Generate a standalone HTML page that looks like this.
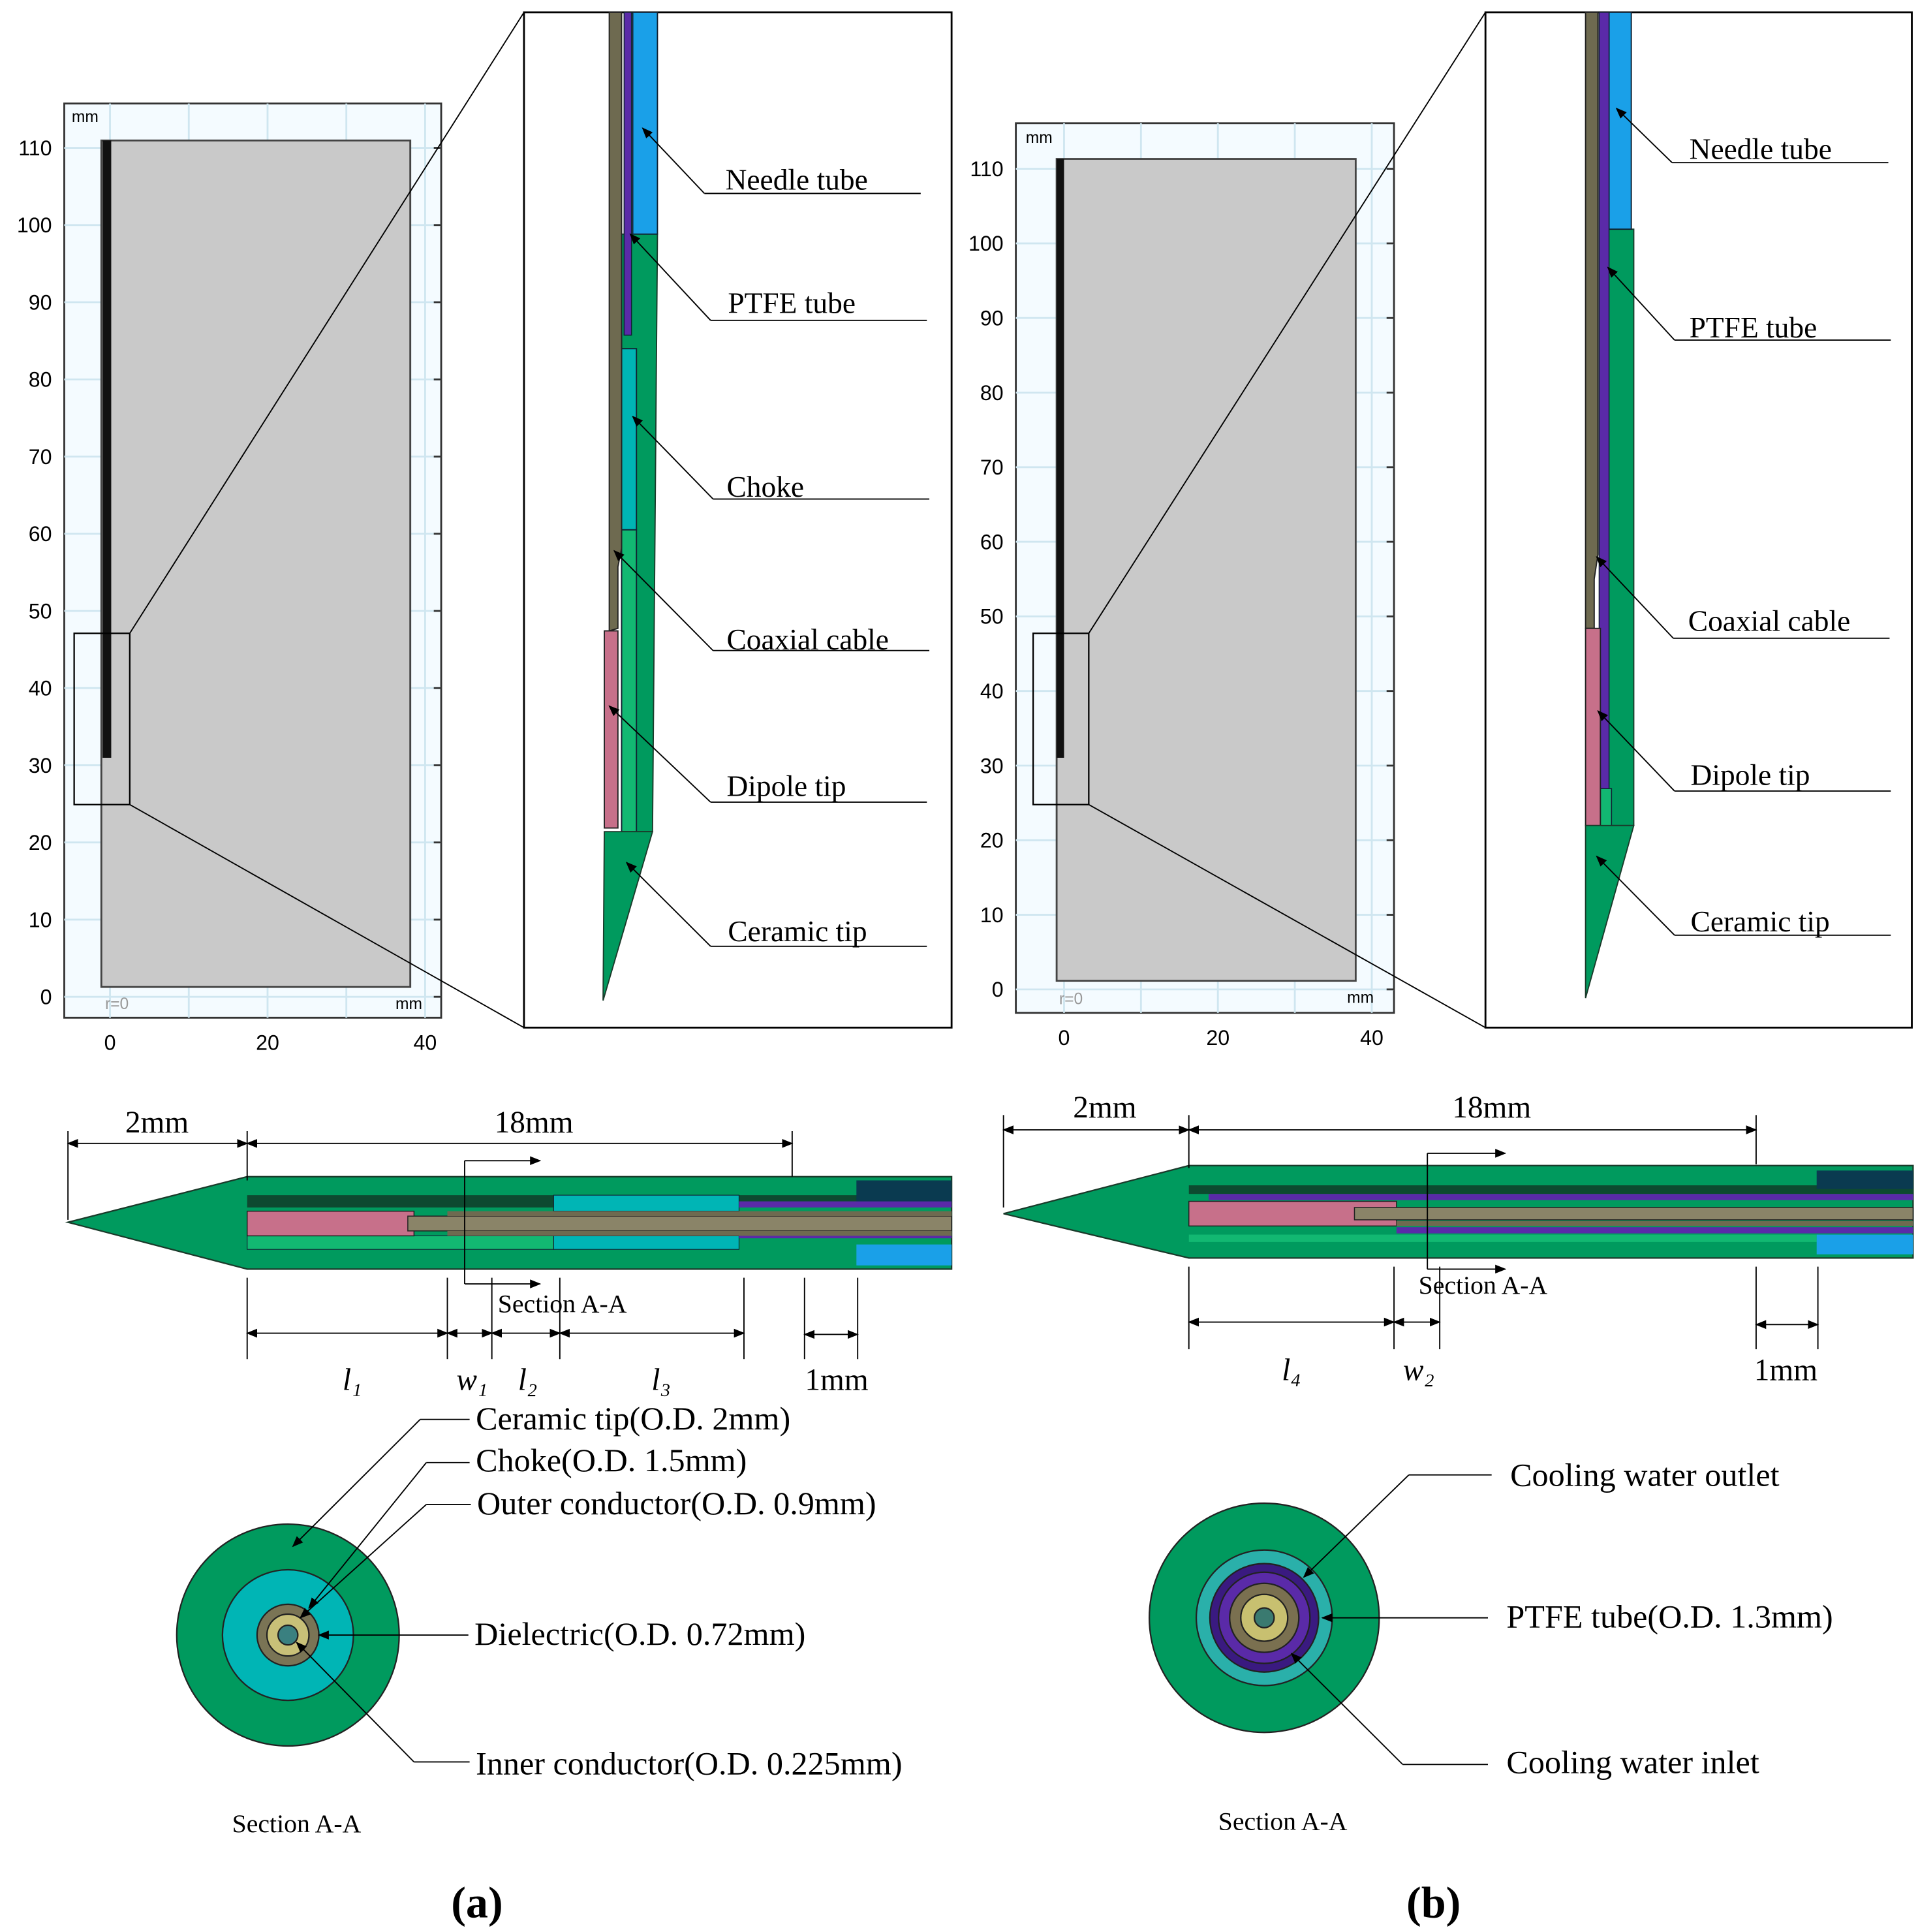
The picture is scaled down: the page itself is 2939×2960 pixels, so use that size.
<!DOCTYPE html>
<html><head><meta charset="utf-8"><style>
html,body{margin:0;padding:0;background:#fff}
svg{display:block}
text{font-family:"Liberation Serif",serif;fill:#000}
.ax{font-family:"Liberation Sans",sans-serif;font-size:17px}
</style></head><body>
<svg id="fig" width="2939" height="2960" viewBox="0 0 1552 1568" preserveAspectRatio="none" xmlns="http://www.w3.org/2000/svg">
<defs>
<marker id="ar" viewBox="0 0 10 10" refX="9" refY="5" markerWidth="9" markerHeight="9" orient="auto-start-reverse"><path d="M0,1 L10,5 L0,9 z" fill="#000"/></marker>
</defs>

<g id="plotA">
<rect x="52" y="84" width="305" height="742" fill="#f4fbff" stroke="#333" stroke-width="1.5"/>
<g id="gridA"></g>
<rect x="82" y="114" width="250" height="687" fill="#c9c9c9" stroke="#444" stroke-width="1.5"/>
<rect x="83" y="114" width="7" height="501" fill="#111"/>
<rect x="60" y="514" width="45" height="139" fill="none" stroke="#000" stroke-width="1.2"/>
<text x="58" y="99" class="ax" font-size="13" style="font-size:13px">mm</text>
<text x="320" y="819" class="ax" style="font-size:13px">mm</text>
<text x="85" y="819" class="ax" style="fill:#999;font-size:13px">r=0</text>
</g>
<line x1="105" y1="514" x2="424" y2="10" stroke="#000" stroke-width="1"/>
<line x1="105" y1="653" x2="424" y2="834" stroke="#000" stroke-width="1"/>

<g id="plotB">
<rect x="822" y="100" width="306" height="722" fill="#f4fbff" stroke="#333" stroke-width="1.5"/>
<g id="gridB"></g>
<rect x="855" y="129" width="242" height="667" fill="#c9c9c9" stroke="#444" stroke-width="1.5"/>
<rect x="855" y="129" width="6" height="486" fill="#111"/>
<rect x="836" y="514" width="45" height="139" fill="none" stroke="#000" stroke-width="1.2"/>
<text x="830" y="116" class="ax" style="font-size:13px">mm</text>
<text x="1090" y="814" class="ax" style="font-size:13px">mm</text>
<text x="857" y="815" class="ax" style="fill:#999;font-size:13px">r=0</text>
</g>
<line x1="881" y1="514" x2="1202" y2="10" stroke="#000" stroke-width="1"/>
<line x1="881" y1="653" x2="1202" y2="834" stroke="#000" stroke-width="1"/>

<g>
<rect x="424" y="10" width="346" height="824" fill="#fff" stroke="#000" stroke-width="1.5"/>
<polygon points="503,190 532,190 528,675 503,675" fill="#009a5e" stroke="#1a3a2a" stroke-width="1"/>
<rect x="512" y="10" width="20" height="180" fill="#1aa0e8" stroke="#123" stroke-width="1"/>
<rect x="503" y="283" width="12" height="147" fill="#00b5b5" stroke="#123" stroke-width="1"/>
<rect x="503" y="430" width="12" height="245" fill="#12b872" stroke="#123" stroke-width="1"/>
<rect x="505" y="10" width="6" height="262" fill="#5a2aa8" stroke="#123" stroke-width="0.8"/>
<polygon points="493,10 503,10 503,445 500,460 500,510 493,512" fill="#6e6a50" stroke="#222" stroke-width="1"/>
<rect x="489" y="512" width="11" height="160" fill="#c7708a" stroke="#222" stroke-width="1"/>
<polygon points="489,675 528,675 488,812" fill="#009a5e" stroke="#1a3a2a" stroke-width="1"/>
</g>
<g>
<rect x="1202" y="10" width="345" height="824" fill="#fff" stroke="#000" stroke-width="1.5"/>
<rect x="1300" y="186" width="22" height="484" fill="#009a5e" stroke="#1a3a2a" stroke-width="1"/>
<rect x="1302" y="10" width="18" height="176" fill="#1aa0e8" stroke="#123" stroke-width="1"/>
<rect x="1294" y="10" width="8" height="630" fill="#5a2aa8" stroke="#123" stroke-width="0.8"/>
<rect x="1294" y="640" width="10" height="30" fill="#12b872" stroke="#123" stroke-width="0.8"/>
<polygon points="1283,10 1293,10 1293,450 1290,470 1290,510 1283,510" fill="#6e6a50" stroke="#222" stroke-width="1"/>
<rect x="1283" y="510" width="12" height="160" fill="#c7708a" stroke="#222" stroke-width="1"/>
<polygon points="1283,670 1322,670 1283,810" fill="#009a5e" stroke="#1a3a2a" stroke-width="1"/>
</g>

<g id="labels" font-size="24"></g>

<g>
<polygon points="55,992 200,955 770,955 770,1030 200,1030" fill="#009a5e" stroke="#1a3a2a" stroke-width="1.2"/>
<rect x="200" y="970" width="570" height="10" fill="#0d4a30"/>
<rect x="448" y="970" width="150" height="13" fill="#00b5b5" stroke="#123" stroke-width="0.6"/>
<rect x="448" y="1003" width="150" height="11" fill="#00b5b5" stroke="#123" stroke-width="0.6"/>
<rect x="200" y="1003" width="248" height="11" fill="#12b872" stroke="#123" stroke-width="0.6"/>
<rect x="598" y="975" width="172" height="5" fill="#5a2aa8"/>
<rect x="598" y="1000" width="172" height="5" fill="#5a2aa8"/>
<rect x="200" y="983" width="135" height="20" fill="#c7708a" stroke="#222" stroke-width="0.8"/>
<rect x="330" y="987" width="440" height="12" fill="#8a8468" stroke="#222" stroke-width="0.8"/>
<rect x="362" y="983" width="408" height="4" fill="#6e6a50"/>
<rect x="362" y="999" width="408" height="4" fill="#6e6a50"/>
<rect x="693" y="958" width="77" height="17" fill="#0a3a50"/>
<rect x="693" y="1010" width="77" height="17" fill="#1aa0e8"/>
</g>
<g>
<polygon points="812,985 962,946 1548,946 1548,1021 962,1021" fill="#009a5e" stroke="#1a3a2a" stroke-width="1.2"/>
<rect x="962" y="962" width="586" height="7" fill="#0d4a30"/>
<rect x="978" y="969" width="570" height="5" fill="#5a2aa8"/>
<rect x="962" y="975" width="168" height="20" fill="#c7708a" stroke="#222" stroke-width="0.8"/>
<rect x="1096" y="980" width="452" height="10" fill="#8a8468" stroke="#222" stroke-width="0.8"/>
<rect x="1130" y="991" width="418" height="4" fill="#6e6a50"/>
<rect x="1130" y="996" width="418" height="5" fill="#5a2aa8"/>
<rect x="962" y="1002" width="508" height="6" fill="#12b872"/>
<rect x="1470" y="950" width="78" height="15" fill="#0a3a50"/>
<rect x="1470" y="1002" width="78" height="16" fill="#1aa0e8"/>
</g>

<g id="csA"></g>
<g id="csB"></g>

<g id="dims" stroke="#000" stroke-width="1" fill="none"></g>
<g id="dimtext" font-size="25"></g>

<text x="386" y="1556" font-size="36" font-weight="bold" text-anchor="middle">(a)</text>
<text x="1160" y="1556" font-size="36" font-weight="bold" text-anchor="middle">(b)</text>
</svg>
<script>
const NS='http://www.w3.org/2000/svg';
const yTicks=[0,10,20,30,40,50,60,70,80,90,100,110];
const xTicks=[0,20,40];
function mk(p,tag,attrs,txt){const e=document.createElementNS(NS,tag);for(const k in attrs)e.setAttribute(k,attrs[k]);if(txt!==undefined)e.textContent=txt;p.appendChild(e);return e;}
function axes(gid,fx,fy,f){
  const g=document.getElementById(gid);
  const xs=v=>fx[0]+v*(fx[1]-fx[0])/40, ys=v=>fy[0]-v*(fy[0]-fy[1])/110;
  yTicks.forEach(v=>{
    const y=ys(v);
    const l=mk(g,'line',{x1:f[0],x2:f[1],y1:y,y2:y,stroke:'#cfe6f0','stroke-width':1.5});
    
    
    mk(g,'line',{x1:f[1]-6,x2:f[1],y1:y,y2:y,stroke:'#333','stroke-width':1.5});
    const t=mk(g,'text',{x:f[0]-10,y:y+6,'text-anchor':'end','class':'ax'},v);
    
    
  });
  [0,10,20,30,40].forEach(v=>{
    const x=xs(v);
    mk(g,'line',{x1:x,x2:x,y1:f[2],y2:f[3],stroke:'#cfe6f0','stroke-width':1.5});
  });
  xTicks.forEach(v=>{
    const x=xs(v);
    const t=mk(g,'text',{x:x,y:f[3]+26,'text-anchor':'middle','class':'ax'},v);
    
    
  });
}
axes('gridA',[89,344],[809,120],[52,357,84,826]);
axes('gridB',[861,1110],[803,137],[822,1128,100,822]);

const labelTexts=['Needle tube','PTFE tube','Choke','Coaxial cable','Dipole tip','Ceramic tip','Needle tube','PTFE tube','Coaxial cable','Dipole tip','Ceramic tip'];
const L=[[587,154,570,157,520,104],[589,254,575,260,510,190],[588,403,577,405,512,338],[588,527,577,528,497,447],[588,646,575,651,493,573],[589,764,575,768,507,700],
[1367,129,1353,132,1308,88],[1367,274,1355,276,1301,217],[1366,512,1354,518,1292,452],[1368,637,1355,642,1293,577],[1368,756,1355,759,1292,695]];
const lg=document.getElementById('labels');
L.forEach((a,i)=>{
  const t=mk(lg,'text',{x:a[0],y:a[1]},labelTexts[i]);
  
  
  mk(lg,'line',{x1:a[2],y1:a[3],x2:a[2]+175,y2:a[3],stroke:'#000','stroke-width':1});
  mk(lg,'line',{x1:a[2],y1:a[3],x2:a[4],y2:a[5],stroke:'#000','stroke-width':1,'marker-end':'url(#ar)'});
});

// cross sections first (under leader lines)
const radiiA=[90,53,25,17,8], colA=['#009a5e','#00b5b5','#7a7455','#c8c078','#3a8080'];
const radiiB=[93,55,44,37,28,19,8], colB=['#009a5e','#2ab0aa','#3a1a80','#5a2aa8','#7a7050','#c8c070','#3a7a70'];
function cs(gid,cx,cy,r,c){const g=document.getElementById(gid);r.forEach((v,i)=>{const e=mk(g,'circle',{cx:cx,cy:cy,r:v,fill:c[i],stroke:'#222','stroke-width':1.2});});}
cs('csA',233,1327,radiiA,colA);cs('csB',1023,1313,radiiB,colB);

const dg=document.getElementById('dims'), dt=document.getElementById('dimtext');
function dim(x1,x2,y){mk(dg,'line',{x1:x1,x2:x2,y1:y,y2:y,'marker-start':'url(#ar)','marker-end':'url(#ar)'});}
function vl(x,y1,y2){mk(dg,'line',{x1:x,x2:x,y1:y1,y2:y2});}
function tx(x,y,s,it){const t=mk(dt,'text',{x:x,y:y,'text-anchor':'middle','font-style':it?'italic':'normal'},s);return t;}
vl(55,918,990);vl(200,918,958);vl(641,918,955);
dim(55,200,928);dim(200,641,928);tx(127,919,'2mm');tx(432,919,'18mm');
vl(376,942,1042);mk(dg,'line',{x1:376,x2:437,y1:942,y2:942,'marker-end':'url(#ar)'});mk(dg,'line',{x1:376,x2:437,y1:1042,y2:1042,'marker-end':'url(#ar)'});
tx(455,1065,'Section A-A').setAttribute('font-size','21');
[200,362,398,453,602].forEach(x=>vl(x,1037,1103));
dim(200,362,1082);dim(362,398,1082);dim(398,453,1082);dim(453,602,1082);
vl(651,1037,1103);vl(694,1037,1103);dim(651,694,1083);
tx(285,1128,'l₁',1);tx(382,1128,'w₁',1);tx(427,1128,'l₂',1);tx(535,1128,'l₃',1);tx(677,1128,'1mm');
vl(812,905,980);vl(962,905,948);vl(1421,905,945);
dim(812,962,917);dim(962,1421,917);tx(894,907,'2mm');tx(1207,907,'18mm');
vl(1155,936,1030);mk(dg,'line',{x1:1155,x2:1218,y1:936,y2:936,'marker-end':'url(#ar)'});mk(dg,'line',{x1:1155,x2:1218,y1:1030,y2:1030,'marker-end':'url(#ar)'});
tx(1200,1050,'Section A-A').setAttribute('font-size','21');
[962,1128,1165].forEach(x=>vl(x,1028,1095));dim(962,1128,1073);dim(1128,1165,1073);
vl(1421,1028,1095);vl(1471,1028,1095);dim(1421,1471,1075);
tx(1045,1120,'l₄',1);tx(1148,1120,'w₂',1);tx(1445,1120,'1mm');

const csTexts=['Ceramic tip(O.D. 2mm)','Choke(O.D. 1.5mm)','Outer conductor(O.D. 0.9mm)','Dielectric(O.D. 0.72mm)','Inner conductor(O.D. 0.225mm)','Cooling water outlet','PTFE tube(O.D. 1.3mm)','Cooling water inlet'];
const C=[[385,1160,340,1152,237,1255],[385,1194,345,1187,250,1305],[386,1229,345,1221,243,1313],[384,1335,258,1327,258,1327],[385,1440,335,1430,240,1333],
[1222,1206,1140,1197,1055,1280],[1219,1321,1070,1313,1070,1313],[1219,1439,1135,1432,1045,1342]];
C.forEach((a,i)=>{
  const t=mk(dt,'text',{x:a[0],y:a[1],'font-size':26.5},csTexts[i]);
  
  
  const sx=a[0]-(i>=5?15:5);
  if(a[2]===a[4]) mk(dg,'line',{x1:sx,y1:a[3],x2:a[4],y2:a[5],'marker-end':'url(#ar)'});
  else{mk(dg,'line',{x1:sx,y1:a[3],x2:a[2],y2:a[3]});mk(dg,'line',{x1:a[2],y1:a[3],x2:a[4],y2:a[5],'marker-end':'url(#ar)'});}
});
tx(240,1487,'Section A-A').setAttribute('font-size','21');
tx(1038,1485,'Section A-A').setAttribute('font-size','21');
</script>
</body></html>
